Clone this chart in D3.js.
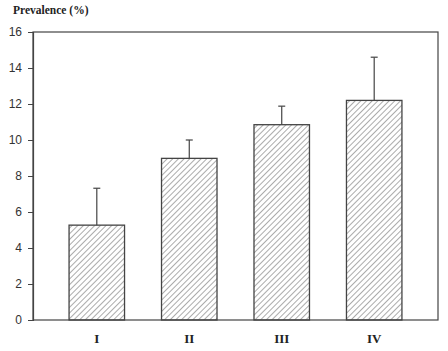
<!DOCTYPE html>
<html>
<head>
<meta charset="utf-8">
<script src="https://cdn.jsdelivr.net/npm/d3@7"></script>
<style>
  body { margin: 0; background: #fff; }
  .y-axis text { font-family: "Liberation Sans", Arial, sans-serif; font-size: 12px; fill: #333; }
  .x-label { font-family: "Liberation Serif", "Times New Roman", serif; font-size: 13px; font-weight: bold; fill: #222; }
  .chart-title { font-family: "Liberation Serif", "Times New Roman", serif; font-size: 11.5px; font-weight: bold; fill: #222; }
</style>
</head>
<body>
<svg id="chart"></svg>
<script>
// data
const groups = ['I', 'II', 'III', 'IV'];
const prevalence = [5.27, 8.98, 10.85, 12.2];
const upperErr = [7.32, 10.0, 11.88, 14.6];
const yTicks = [0, 2, 4, 6, 8, 10, 12, 14, 16];

const config = {
  containerWidth: 448,
  containerHeight: 351,
  margin: { top: 32, bottom: 31, right: 10, left: 33 }
};

const width = config.containerWidth - config.margin.left - config.margin.right;
const height = config.containerHeight - config.margin.top - config.margin.bottom;

const svg = d3.select('#chart')
    .attr('width', config.containerWidth)
    .attr('height', config.containerHeight);

// hatch pattern for the bars
svg.append('defs').append('pattern')
    .attr('id', 'hatch')
    .attr('patternUnits', 'userSpaceOnUse')
    .attr('width', 4)
    .attr('height', 4)
    .attr('patternTransform', 'rotate(45)')
  .append('line')
    .attr('x1', 0).attr('y1', 0)
    .attr('x2', 0).attr('y2', 4)
    .attr('stroke', '#444')
    .attr('stroke-width', 0.9);

const chart = svg.append('g')
    .attr('transform', `translate(${config.margin.left},${config.margin.top})`);

const xScale = d3.scaleBand()
    .domain(groups)
    .range([0, width])
    .paddingInner(0.4)
    .paddingOuter(0.39);

const yScale = d3.scaleLinear()
    .domain([0, 16])
    .range([height, 0]);

// frame
chart.append('rect')
    .attr('width', width)
    .attr('height', height)
    .attr('fill', 'none')
    .attr('stroke', '#444')
    .attr('stroke-width', 1.2);

const yAxis = d3.axisLeft(yScale).tickValues(yTicks).tickSize(5).tickPadding(6);
const yAxisG = chart.append('g').attr('class', 'axis y-axis').call(yAxis);
yAxisG.select('.domain').attr('stroke', '#444').attr('stroke-width', 1.2);
yAxisG.selectAll('.tick line').attr('stroke', '#444');

// error bars (upper only)
const errG = chart.selectAll('.err')
    .data(groups)
  .join('g')
    .attr('class', 'err')
    .attr('stroke', '#444')
    .attr('stroke-width', 1.2);

errG.append('line')
    .attr('x1', d => xScale(d) + xScale.bandwidth() / 2)
    .attr('x2', d => xScale(d) + xScale.bandwidth() / 2)
    .attr('y1', (d, i) => yScale(prevalence[i]))
    .attr('y2', (d, i) => yScale(upperErr[i]));

errG.append('line')
    .attr('x1', d => xScale(d) + xScale.bandwidth() / 2 - 3.5)
    .attr('x2', d => xScale(d) + xScale.bandwidth() / 2 + 3.5)
    .attr('y1', (d, i) => yScale(upperErr[i]))
    .attr('y2', (d, i) => yScale(upperErr[i]));

chart.selectAll('.bar')
    .data(groups)
  .join('rect')
    .attr('class', 'bar')
    .attr('x', d => xScale(d))
    .attr('y', (d, i) => yScale(prevalence[i]))
    .attr('width', xScale.bandwidth())
    .attr('height', (d, i) => height - yScale(prevalence[i]))
    .attr('fill', 'url(#hatch)')
    .attr('stroke', '#444')
    .attr('stroke-width', 1.3);

// x labels
chart.selectAll('.x-label')
    .data(groups)
  .join('text')
    .attr('class', 'x-label')
    .attr('x', d => xScale(d) + xScale.bandwidth() / 2)
    .attr('y', height + 23)
    .attr('text-anchor', 'middle')
    .text(d => d);

svg.append('text')
    .attr('class', 'chart-title')
    .attr('x', 13)
    .attr('y', 14)
    .text('Prevalence (%)');
</script>
</body>
</html>
